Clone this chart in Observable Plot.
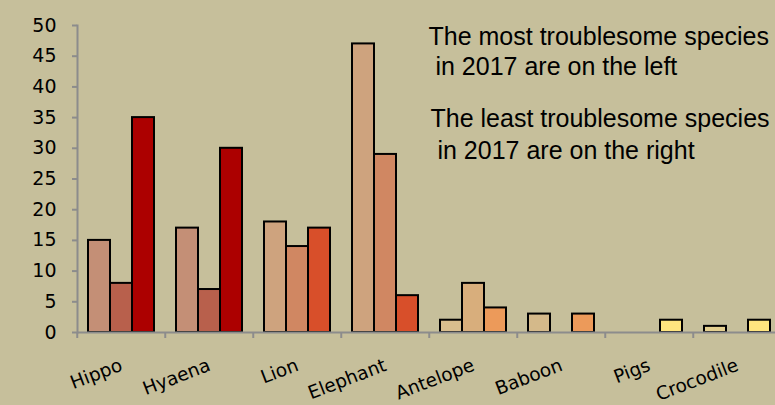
<!DOCTYPE html>
<html><head><meta charset="utf-8">
<script src="https://cdn.jsdelivr.net/npm/d3@7"></script>
<script src="https://cdn.jsdelivr.net/npm/@observablehq/plot@0.6"></script>
<style>html,body{margin:0;padding:0;overflow:hidden;background:#C6BF9B}</style>
</head><body><div id="chart"></div>
<script>
// ---- data ----
const categories = ["Hippo", "Hyaena", "Lion", "Elephant", "Antelope", "Baboon", "Pigs", "Crocodile"];
const years = ["2015", "2016", "2017"];
const values2015 = [15, 17, 18, 47, 2, 3, null, 1];
const values2016 = [8, 7, 14, 29, 8, null, null, null];
const values2017 = [35, 30, 17, 6, 4, 3, 2, 2];
const yTicks = [0, 5, 10, 15, 20, 25, 30, 35, 40, 45, 50];
const noteLeft = "The most troublesome species\n\u00a0in 2017 are on the left";
const noteRight = "The least troublesome species\n\u00a0in 2017 are on the right";

// ---- styles ----
const palette = {
  Hippo:     ["#C48F76", "#B8604C", "#AC0000"],
  Hyaena:    ["#C48F76", "#B8604C", "#AC0000"],
  Lion:      ["#CEA37E", "#D08762", "#D84F2A"],
  Elephant:  ["#CEA37E", "#D08762", "#D84F2A"],
  Antelope:  ["#D9BE8E", "#D8AE7C", "#EC9A5A"],
  Baboon:    ["#D4B98A", "#D8AE7C", "#EC9A5A"],
  Pigs:      ["#E4D090", "#F0DC85", "#FFE57F"],
  Crocodile: ["#E4D090", "#F0DC85", "#FFE57F"]
};
const bg = "#C6BF9B";
const axisGray = "#8C8C8C";

const series = [values2015, values2016, values2017];
const rows = categories.flatMap((c, i) =>
  series.map((vals, j) => ({category: c, year: years[j], value: vals[i]}))
).filter(d => d.value != null);

const width = 775, height = 405, marginLeft = 75, marginRight = -8;
const step = (width - marginLeft - marginRight) / categories.length;

const plot = Plot.plot({
  width, height,
  marginTop: 25, marginBottom: 73, marginLeft, marginRight,
  style: {background: bg, fontFamily: "DejaVu Sans", fontSize: "18px", color: "#000"},
  fx: {domain: categories, padding: 0, axis: null, label: null},
  x: {domain: years, paddingInner: 0, paddingOuter: 0.5, axis: null},
  y: {domain: [0, 50], axis: null},
  marks: [
    Plot.barY(rows, {
      fx: "category", x: "year", y: "value",
      fill: d => palette[d.category][years.indexOf(d.year)],
      stroke: "#000", strokeWidth: 2
    }),
    Plot.ruleY([0], {stroke: axisGray, strokeWidth: 2}),
    Plot.frame({anchor: "left", facetAnchor: "left", stroke: axisGray, strokeWidth: 2}),
    Plot.axisY({ticks: yTicks, tickSize: 5, tickPadding: 16, stroke: axisGray, strokeWidth: 2, label: null, fontSize: 19}),
    Plot.axisFx({anchor: "bottom", tickSize: 6, fill: "none", stroke: axisGray, strokeWidth: 2, dx: -step / 2, label: null}),
    Plot.axisFx({anchor: "bottom", tickSize: 0, tickPadding: 32, tickRotate: -21, fontSize: 18.5, label: null, dx: 0}),
    Plot.text([noteLeft], {text: d => d, frameAnchor: "top-left", facet: "super", dx: 351, dy: -2,
      lineAnchor: "top", textAnchor: "start", fontSize: 25, fontFamily: "Liberation Sans, Arial", lineHeight: 1.2, fill: "#000"}),
    Plot.text([noteRight], {text: d => d, frameAnchor: "top-left", facet: "super", dx: 353, dy: 78,
      lineAnchor: "top", textAnchor: "start", fontSize: 25, fontFamily: "Liberation Sans, Arial", lineHeight: 1.3, fill: "#000"})
  ]
});
document.getElementById("chart").appendChild(plot);
</script>
</body></html>
